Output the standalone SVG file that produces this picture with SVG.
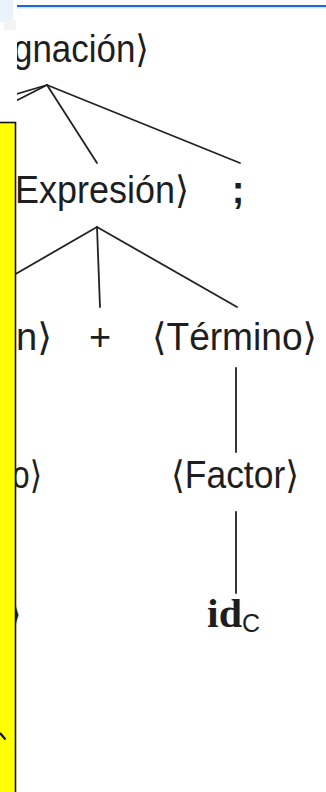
<svg xmlns="http://www.w3.org/2000/svg" width="326" height="792" viewBox="0 0 326 792">
  <style>
    .lbl { font-family: "Liberation Sans", "DejaVu Sans", sans-serif; font-size: 38px; fill: #1e1e1e; }
    .tok { font-family: "Liberation Serif", serif; font-weight: bold; font-size: 40px; fill: #1e1e1e; }
    .sub { font-family: "Liberation Sans", sans-serif; font-size: 25px; fill: #1e1e1e; }
    .edge { stroke: #222; stroke-width: 1.8; fill: none; stroke-linecap: round; }
  </style>
  <rect x="0" y="0" width="326" height="792" fill="#ffffff"/>

  <g id="connectors">
    <line class="edge" x1="47" y1="85" x2="0" y2="99"/>
    <line class="edge" x1="47" y1="85" x2="0" y2="109"/>
    <line class="edge" x1="47" y1="85" x2="97" y2="163"/>
    <line class="edge" x1="47" y1="85" x2="240" y2="163"/>
    <line class="edge" x1="97" y1="227" x2="0" y2="283"/>
    <line class="edge" x1="97" y1="227" x2="100" y2="307"/>
    <line class="edge" x1="97" y1="227" x2="237" y2="307"/>
    <line class="edge" x1="236" y1="368" x2="236" y2="452"/>
    <line class="edge" x1="236" y1="512" x2="236" y2="593"/>
  </g>

  <g id="node-asignacion">
    <text class="lbl" x="13" y="62" textLength="136" lengthAdjust="spacingAndGlyphs">gnación⟩</text>
  </g>
  <g id="node-expresion">
    <text class="lbl" x="15" y="203" textLength="174" lengthAdjust="spacingAndGlyphs">Expresión⟩</text>
  </g>
  <g id="node-semicolon">
    <text class="lbl" x="238" y="203" text-anchor="middle" font-weight="bold">;</text>
  </g>
  <g id="node-expresion2">
    <text class="lbl" x="16" y="350" textLength="36" lengthAdjust="spacingAndGlyphs">n⟩</text>
  </g>
  <g id="node-plus">
    <text class="lbl" x="100" y="350" text-anchor="middle">+</text>
  </g>
  <g id="node-termino">
    <text class="lbl" x="152" y="350" textLength="165" lengthAdjust="spacingAndGlyphs">⟨Término⟩</text>
  </g>
  <g id="node-termino2">
    <text class="lbl" x="12" y="488" textLength="30" lengthAdjust="spacingAndGlyphs">o⟩</text>
  </g>
  <g id="node-factor">
    <text class="lbl" x="171" y="488" textLength="128" lengthAdjust="spacingAndGlyphs">⟨Factor⟩</text>
  </g>
  <g id="node-factor2">
    <text class="lbl" x="7" y="627" font-weight="normal">⟩</text>
  </g>
  <g id="node-idc">
    <text class="tok" x="207" y="627" textLength="35" lengthAdjust="spacingAndGlyphs">id</text>
    <text class="sub" x="242" y="632">C</text>
  </g>

  <!-- top-left panel and blue rule -->
  <rect x="0" y="0" width="17" height="122" fill="#ffffff"/>
  <rect x="0" y="0" width="13" height="22" fill="#eaf2fa"/>
  <rect x="4" y="20" width="12" height="10" fill="#f1f3f5"/>
  <line x1="17" y1="6" x2="326" y2="6" stroke="#1f67d6" stroke-width="2"/>
  <line x1="17" y1="7.8" x2="326" y2="7.8" stroke="#a9c6ef" stroke-width="0.8"/>

  <!-- yellow box -->
  <g id="yellow-box">
    <rect x="-2" y="122.5" width="17.5" height="680" fill="#ffff00" stroke="#111" stroke-width="1.6"/>
    <line x1="0" y1="733" x2="5.5" y2="739.5" stroke="#111" stroke-width="2.2"/>
  </g>
</svg>
